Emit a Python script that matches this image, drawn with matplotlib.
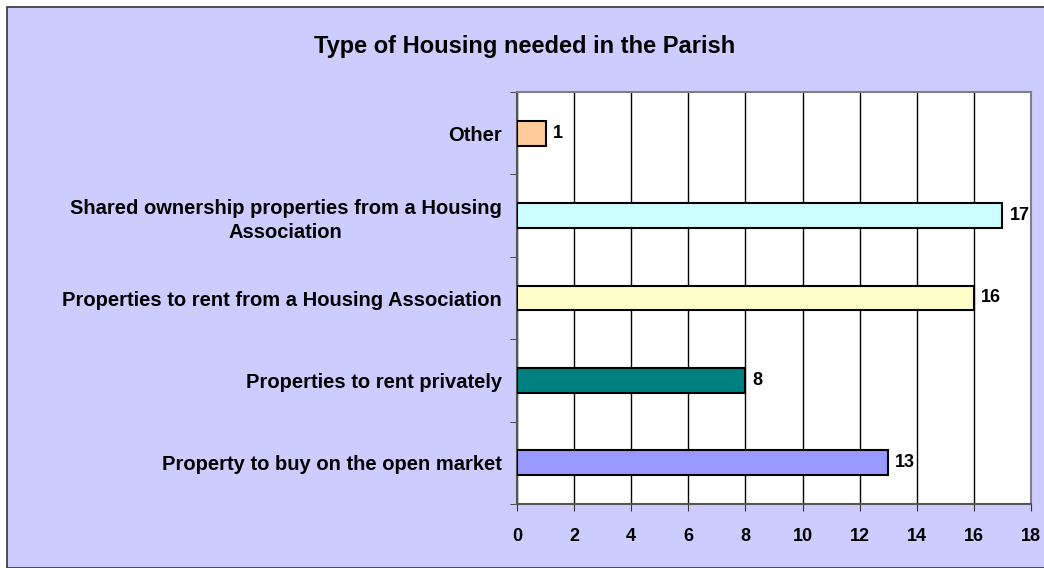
import matplotlib.pyplot as plt
from matplotlib.patches import Rectangle

plt.rcParams['font.family'] = ['Liberation Sans', 'DejaVu Sans']
plt.rcParams['font.weight'] = 'bold'

# data, bottom to top
categories = ["Property to buy on the open market",
              "Properties to rent privately",
              "Properties to rent from a Housing Association",
              "Shared ownership properties from a Housing\nAssociation",
              "Other"]
counts = [13, 8, 16, 17, 1]
colors = ["#9999FF", "#008080", "#FFFFCC", "#CCFFFF", "#FFCC99"]
xticks = [0, 2, 4, 6, 8, 10, 12, 14, 16, 18]

W, H = 1044, 568
fig = plt.figure(figsize=(W/100, H/100), dpi=100)
fig.patch.set_facecolor("white")
# chart area background with frame on left/top
fig.patches.append(Rectangle((7/W, 0), 1, 1 - 7/H, transform=fig.transFigure,
                             facecolor="#CCCCFF", edgecolor="#333333", lw=1.2, zorder=-1))

ax = fig.add_axes([517/W, 1 - 504/H, (1031 - 517)/W, (504 - 92)/H])
ax.set_facecolor("white")

y = list(range(len(categories)))
ax.barh(y, counts, height=0.3, color=colors, edgecolor="black", linewidth=1.5, zorder=3)
for yi, v in zip(y, counts):
    ax.text(v + 0.25, yi, str(v), va="center", ha="left", fontsize=13, fontweight="bold")

ax.set_xlim(0, 18)
ax.set_ylim(-0.5, len(categories) - 0.5)
ax.set_xticks(xticks)
ax.set_xticklabels([str(t) for t in xticks], fontsize=13, fontweight="bold")
ax.xaxis.grid(True, color="black", lw=1, zorder=0)
ax.set_yticks(y)
ax.set_yticklabels(categories, fontsize=14.5, fontweight="bold", multialignment="center",
                   linespacing=1.35)
ax.set_yticks([i - 0.5 for i in range(len(categories) + 1)], minor=True)
ax.tick_params(axis="y", which="major", length=0, pad=11)
ax.tick_params(axis="y", which="minor", length=5, color="#333333")
ax.tick_params(axis="x", length=5, color="#333333", pad=12)

for s in ["top", "right"]:
    ax.spines[s].set_color("#808080")
    ax.spines[s].set_linewidth(1.5)
for s in ["left", "bottom"]:
    ax.spines[s].set_color("#555555")
    ax.spines[s].set_linewidth(1.5)

fig.text(525/W, 1 - 47/H, "Type of Housing needed in the Parish", ha="center", va="center",
         fontsize=17, fontweight="bold")

fig.savefig("out.png", dpi=100)
